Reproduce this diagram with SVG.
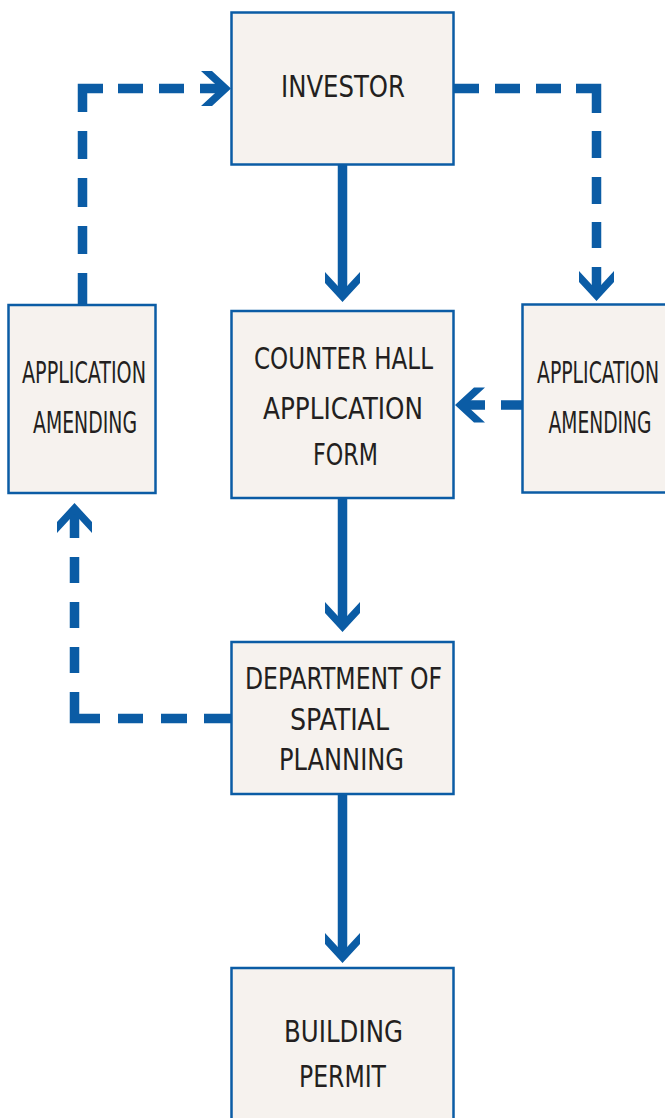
<svg xmlns="http://www.w3.org/2000/svg" width="665" height="1118" viewBox="0 0 665 1118">
<style>
.box{fill:#f6f2ee;stroke:#0b5ca5;stroke-width:2.5}
.t{font-family:"Liberation Sans Narrow","DejaVu Sans Condensed","Liberation Sans",sans-serif;font-size:31px;fill:#231f20;text-anchor:middle}
.line{fill:none;stroke:#0b5ca5;stroke-width:9.5;stroke-linejoin:miter}
.head{fill:#0b5ca5}
</style>
<defs>
<polygon id="ad" points="-17.5,-30 0,-11 17.5,-30 17.5,-19 0,0 -17.5,-19"/>
</defs>
<rect width="665" height="1118" fill="#ffffff"/>
<g id="connectors">
<path class="line" d="M342.5,165 V296"/>
<use href="#ad" class="head" transform="translate(342.5,302)"/>
<path class="line" d="M342.5,498 V626"/>
<use href="#ad" class="head" transform="translate(342.5,632)"/>
<path class="line" d="M342.5,794 V957"/>
<use href="#ad" class="head" transform="translate(342.5,963)"/>
<path class="line" d="M82.5,305 V273 M82.5,254 V226 M82.5,207 V178 M82.5,159 V131 M82.5,112 V88.5 H103 M118,88.5 H143 M159,88.5 H184 M200,88.5 H225"/>
<use href="#ad" class="head" transform="translate(231,88.5) rotate(-90)"/>
<path class="line" d="M454,88.5 H479 M495,88.5 H520 M536,88.5 H561 M576,88.5 H596.5 V113 M596.5,131 V158 M596.5,177 V204 M596.5,222 V248 M596.5,267 V295"/>
<use href="#ad" class="head" transform="translate(596.5,301)"/>
<path class="line" d="M522,405 H501 M485,405 H461"/>
<use href="#ad" class="head" transform="translate(455,405) rotate(90)"/>
<path class="line" d="M231,718.5 H204 M187,718.5 H161 M143,718.5 H118 M100,718.5 H74.5 V692 M74.5,673 V647 M74.5,628 V602 M74.5,583 V557 M74.5,538 V509"/>
<use href="#ad" class="head" transform="translate(74.5,503) rotate(180)"/>
</g>
<g id="investor">
<rect class="box" x="231.5" y="12.5" width="222" height="152"/>
<text class="t" x="343" y="97" textLength="124" lengthAdjust="spacingAndGlyphs">INVESTOR</text>
</g>
<g id="counter-hall">
<rect class="box" x="231.5" y="311" width="222" height="187"/>
<text class="t" x="343.5" y="369" textLength="179" lengthAdjust="spacingAndGlyphs">COUNTER HALL</text>
<text class="t" x="343" y="419" textLength="160" lengthAdjust="spacingAndGlyphs">APPLICATION</text>
<text class="t" x="345.5" y="465" textLength="65" lengthAdjust="spacingAndGlyphs">FORM</text>
</g>
<g id="amend-left">
<rect class="box" x="8.5" y="305" width="147" height="188"/>
<text class="t" x="84" y="383" textLength="124" lengthAdjust="spacingAndGlyphs">APPLICATION</text>
<text class="t" x="85" y="433" textLength="104" lengthAdjust="spacingAndGlyphs">AMENDING</text>
</g>
<g id="amend-right">
<rect class="box" x="522.5" y="304.5" width="150" height="188"/>
<text class="t" x="598" y="383" textLength="122" lengthAdjust="spacingAndGlyphs">APPLICATION</text>
<text class="t" x="600" y="433" textLength="103" lengthAdjust="spacingAndGlyphs">AMENDING</text>
</g>
<g id="department">
<rect class="box" x="231.5" y="642" width="222" height="152"/>
<text class="t" x="343.5" y="689" textLength="197" lengthAdjust="spacingAndGlyphs">DEPARTMENT OF</text>
<text class="t" x="339.5" y="730" textLength="99" lengthAdjust="spacingAndGlyphs">SPATIAL</text>
<text class="t" x="341.5" y="770" textLength="125" lengthAdjust="spacingAndGlyphs">PLANNING</text>
</g>
<g id="building-permit">
<rect class="box" x="231.5" y="968" width="222" height="160"/>
<text class="t" x="343.5" y="1042" textLength="119" lengthAdjust="spacingAndGlyphs">BUILDING</text>
<text class="t" x="342.5" y="1087" textLength="87" lengthAdjust="spacingAndGlyphs">PERMIT</text>
</g>
</svg>
